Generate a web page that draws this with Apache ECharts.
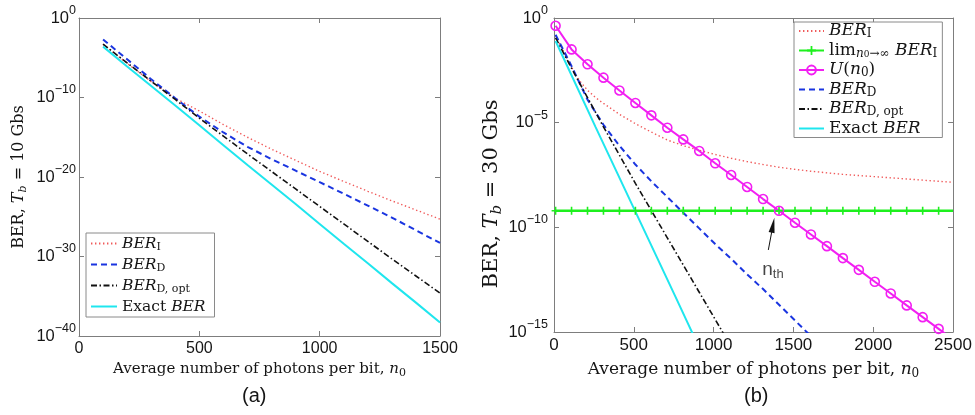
<!DOCTYPE html>
<html>
<head>
<meta charset="utf-8">
<script src="https://cdn.jsdelivr.net/npm/echarts@6/dist/echarts.min.js"></script>
<style>
  html, body { margin: 0; padding: 0; background: #fff; }
  #chart { width: 975px; height: 415px; }
</style>
</head>
<body>
<div id="chart"></div>
<script>
// ---------- Panel (a): T_b = 10 Gbs (values are log10 of the BER) ----------
const nA = [100, 200, 300, 400, 500, 600, 700, 800, 900, 1000, 1100, 1200, 1300, 1400, 1500];
const log10BerI_A     = [-3.3, -5.7, -8.0, -10.1, -11.7, -13.4, -15.0, -16.5, -17.9, -19.3, -20.55, -21.8, -23.0, -24.15, -25.3];
const log10BerD_A     = [-2.7, -5.2, -7.7, -10.1, -12.4, -14.4, -16.2, -17.75, -19.2, -20.65, -22.1, -23.6, -25.1, -26.7, -28.3];
const log10BerDopt_A  = [-3.3, -5.65, -7.95, -10.25, -12.6, -14.85, -17.1, -19.3, -21.5, -23.7, -25.9, -28.1, -30.3, -32.45, -34.6];
const log10BerExact_A = [-3.6, -6.1, -8.55, -11.0, -13.5, -16.0, -18.5, -20.95, -23.4, -25.9, -28.4, -30.85, -33.35, -35.8, -38.3];
const xTicksA = [0, 500, 1000, 1500];
const yExpTicksA = [-40, -30, -20, -10, 0];

// ---------- Panel (b): T_b = 30 Gbs ----------
const nB = [10, 110, 210, 310, 410, 510, 610, 710, 810, 910, 1010, 1110, 1210, 1310, 1410, 1510, 1610, 1710, 1810, 1910, 2010, 2110, 2210, 2310, 2410];
const log10U_B = [-0.37, -1.50, -2.21, -2.85, -3.46, -4.06, -4.65, -5.24, -5.80, -6.35, -6.94, -7.50, -8.07, -8.65, -9.21, -9.78, -10.34, -10.90, -11.47, -12.03, -12.60, -13.16, -13.73, -14.29, -14.85];
const uTailN = 2500;
const uTailLog10 = -15.36;
const log10LimBerI_B = -9.21;
const limEndN = 2500;

const nI_B = [10, 60, 110, 160, 210, 260, 310, 410, 510, 610, 710, 810, 910, 1010, 1110, 1210, 1310, 1410, 1510, 1610, 1810, 2010, 2210, 2410, 2500];
const log10BerI_B = [-0.85, -1.6, -2.35, -3.0, -3.45, -3.8, -4.08, -4.6, -5.05, -5.45, -5.83, -6.1, -6.32, -6.52, -6.70, -6.86, -7.0, -7.13, -7.23, -7.32, -7.47, -7.58, -7.69, -7.80, -7.85];

const nD_B = [10, 110, 210, 310, 410, 510, 610, 710, 810, 910, 1010, 1110, 1210, 1310, 1410, 1510, 1610];
const log10BerD_B = [-0.8, -2.3, -3.9, -5.1, -6.1, -7.0, -7.8, -8.55, -9.3, -10.05, -10.8, -11.5, -12.25, -12.95, -13.7, -14.45, -15.2];

const nDopt_B = [10, 110, 210, 310, 410, 510, 610, 710, 810, 910, 1010, 1110];
const log10BerDopt_B = [-0.95, -2.4, -3.8, -5.2, -6.55, -7.9, -9.2, -10.5, -11.8, -13.1, -14.4, -15.7];

const nExact_B = [10, 260, 510, 760, 910];
const log10BerExact_B = [-1.1, -5.2, -9.25, -13.3, -15.75];

const xTicksB = [0, 500, 1000, 1500, 2000, 2500];
const yExpTicksB = [-15, -10, -5, 0];

// n_th annotation (data space): arrow tail, arrow head, label anchor
const nthArrowTail = [1343, -11.08];
const nthArrowHead = [1372, -9.90];
const nthLabelAt = [1372, -12.05];

// ---------- styling ----------
const SERIF = '"DejaVu Serif", "Liberation Serif", serif';
const SANS = '"Liberation Sans", Arial, sans-serif';
const AXIS_GREY = '#7d7d7d';
const INK = '#151515';
const C_RED = '#f05a5a', C_BLUE = '#1a35e0', C_BLACK = '#111111',
      C_CYAN = '#1fe6ee', C_GREEN = '#1ef01e', C_MAGENTA = '#f21ff2';

const pairs = (xs, ys) => xs.map((x, i) => [x, ys[i]]);

function serifRich(size, lh) {
  return {
    rm:    { fontFamily: SERIF, fontSize: size, lineHeight: lh, color: INK },
    it:    { fontFamily: SERIF, fontSize: size, lineHeight: lh, fontStyle: 'italic', color: INK },
    sub:   { fontFamily: SERIF, fontSize: Math.round(size * 0.7), lineHeight: Math.round(size * 0.62), verticalAlign: 'bottom', color: INK },
    subit: { fontFamily: SERIF, fontSize: Math.round(size * 0.7), lineHeight: Math.round(size * 0.62), verticalAlign: 'bottom', fontStyle: 'italic', color: INK },
    tiny:  { fontFamily: SERIF, fontSize: Math.round(size * 0.52), lineHeight: Math.round(size * 0.45), verticalAlign: 'bottom', color: INK }
  };
}

function powLabelRich(base, sup) {
  return {
    b: { fontFamily: SANS, fontSize: base, lineHeight: 28, color: INK },
    s: { fontFamily: SANS, fontSize: sup, lineHeight: 12, verticalAlign: 'top', color: INK }
  };
}
const powFormatter = v => '{b|10}{s|' + (v === 0 ? '0' : '\u2212' + (-v)) + '}';
const plainFormatter = v => String(v);

function xAxisPair(gridIndex, ticks, labelSize, nameText, nameSize, nameGap) {
  const min = ticks[0], max = ticks[ticks.length - 1], interval = ticks[1] - ticks[0];
  const common = {
    gridIndex, type: 'value', min, max, interval,
    axisLine: { show: true, onZero: false, lineStyle: { color: AXIS_GREY, width: 1 } },
    axisTick: { show: true, inside: true, length: 5, lineStyle: { color: AXIS_GREY } },
    splitLine: { show: false }
  };
  return [
    Object.assign({}, common, {
      position: 'bottom',
      axisLabel: { show: true, margin: 5, fontFamily: SANS, fontSize: labelSize, color: INK, formatter: plainFormatter },
      name: nameText, nameLocation: 'middle', nameGap,
      nameTextStyle: { rich: serifRich(nameSize, nameSize + 4) }
    }),
    Object.assign({}, common, { position: 'top', axisLabel: { show: false } })
  ];
}

function yAxisPair(gridIndex, ticks, baseSize, supSize, margin, nameText, nameSize, nameGap, namePad) {
  const min = ticks[0], max = ticks[ticks.length - 1], interval = ticks[1] - ticks[0];
  const common = {
    gridIndex, type: 'value', min, max, interval,
    axisLine: { show: true, onZero: false, lineStyle: { color: AXIS_GREY, width: 1 } },
    axisTick: { show: true, inside: true, length: 5, lineStyle: { color: AXIS_GREY } },
    splitLine: { show: false }
  };
  return [
    Object.assign({}, common, {
      position: 'left',
      axisLabel: { show: true, margin, formatter: powFormatter, rich: powLabelRich(baseSize, supSize) },
      name: nameText, nameLocation: 'middle', nameGap, nameRotate: 90,
      nameTextStyle: { rich: serifRich(nameSize, nameSize + 4), padding: namePad }
    }),
    Object.assign({}, common, { position: 'right', axisLabel: { show: false } })
  ];
}

function line(name, xi, yi, data, color, width, dash, extra) {
  return Object.assign({
    name, type: 'line', xAxisIndex: xi, yAxisIndex: yi, data,
    symbol: 'none', showSymbol: false, clip: true, smooth: false,
    lineStyle: { color, width, type: dash || 'solid', cap: 'butt' },
    itemStyle: { color },
    emphasis: { disabled: true }, silent: true, animation: false
  }, extra || {});
}

const legendTextA = {
  'a-BERI': '{it|BER}{sub|I}',
  'a-BERD': '{it|BER}{sub|D}',
  'a-BERDopt': '{it|BER}{sub|D, opt}',
  'a-Exact': '{rm|Exact }{it|BER}'
};
const legendTextB = {
  'b-BERI': '{it|BER}{sub|I}',
  'b-Lim': '{rm|lim}{subit|n}{tiny|0}{sub|\u2192\u221e}{rm| }{it|BER}{sub|I}',
  'b-U': '{it|U}{rm|(}{it|n}{sub|0}{rm|)}',
  'b-BERD': '{it|BER}{sub|D}',
  'b-BERDopt': '{it|BER}{sub|D, opt}',
  'b-Exact': '{rm|Exact }{it|BER}'
};

const DOT = [1.4, 2.6];
const DASH = [6, 4];
const DASHDOT = [6, 2.5, 1.5, 2.5];
const PLUS = 'path://M4,0 H6 V4 H10 V6 H6 V10 H4 V6 H0 V4 H4 Z';

const limData = nB.map(n => [n, log10LimBerI_B]);
limData.push({ value: [limEndN, log10LimBerI_B], symbol: 'none' });
const uData = pairs(nB, log10U_B);
uData.push({ value: [uTailN, uTailLog10], symbol: 'none' });

const hideSym = { opacity: 0 };

const option = {
  animation: false,
  backgroundColor: '#ffffff',
  title: [
    { text: '(a)', left: 242, top: 386, padding: 0, textStyle: { fontFamily: SANS, fontSize: 20, fontWeight: 'normal', color: INK } },
    { text: '(b)', left: 744, top: 386, padding: 0, textStyle: { fontFamily: SANS, fontSize: 20, fontWeight: 'normal', color: INK } }
  ],
  grid: [
    { left: 79, top: 18, width: 361, height: 318, containLabel: false, outerBoundsMode: 'none' },
    { left: 554, top: 18, width: 399, height: 314, containLabel: false, outerBoundsMode: 'none' }
  ],
  xAxis: [].concat(
    xAxisPair(0, xTicksA, 16, '{rm|Average number of photons per bit, }{it|n}{sub|0}', 15, 24),
    xAxisPair(1, xTicksB, 17, '{rm|Average number of photons per bit, }{it|n}{sub|0}', 17, 27)
  ),
  yAxis: [].concat(
    yAxisPair(0, yExpTicksA, 16.5, 12.5, 3, '{rm|BER, }{it|T}{subit|b}{rm| = 10 Gbs}', 16, 50, 0),
    yAxisPair(1, yExpTicksB, 16.5, 12.5, 6, '{rm|BER, }{it|T}{subit|b}{rm| = 30 Gbs}', 21, 46, [0, 38, 0, 0])
  ),
  legend: [
    {
      orient: 'vertical', left: 86, top: 233, padding: [1, 9, 1, 4], itemGap: 2,
      itemWidth: 26, itemHeight: 12, selectedMode: false, align: 'left',
      backgroundColor: '#ffffff', borderColor: '#8a8a8a', borderWidth: 1, borderRadius: 0,
      textStyle: { fontFamily: SERIF, fontSize: 15.5, lineHeight: 19, color: INK, rich: serifRich(15.5, 19) },
      formatter: name => legendTextA[name],
      data: [
        { name: 'a-BERI', itemStyle: hideSym },
        { name: 'a-BERD', itemStyle: hideSym },
        { name: 'a-BERDopt', itemStyle: hideSym },
        { name: 'a-Exact', itemStyle: hideSym }
      ]
    },
    {
      orient: 'vertical', left: 794, top: 22, padding: [0, 5, 0, 4], itemGap: 1.5,
      itemWidth: 25, itemHeight: 11, selectedMode: false, align: 'left',
      backgroundColor: '#ffffff', borderColor: '#8a8a8a', borderWidth: 1, borderRadius: 0,
      textStyle: { fontFamily: SERIF, fontSize: 17, lineHeight: 18, color: INK, rich: serifRich(17, 18) },
      formatter: name => legendTextB[name],
      data: [
        { name: 'b-BERI', itemStyle: hideSym },
        { name: 'b-Lim' },
        { name: 'b-U' },
        { name: 'b-BERD', itemStyle: hideSym },
        { name: 'b-BERDopt', itemStyle: hideSym },
        { name: 'b-Exact', itemStyle: hideSym }
      ]
    }
  ],
  series: [
    // panel (a)
    line('a-BERI', 0, 0, pairs(nA, log10BerI_A), C_RED, 1.4, DOT),
    line('a-BERD', 0, 0, pairs(nA, log10BerD_A), C_BLUE, 2, DASH),
    line('a-BERDopt', 0, 0, pairs(nA, log10BerDopt_A), C_BLACK, 1.6, DASHDOT),
    line('a-Exact', 0, 0, pairs(nA, log10BerExact_A), C_CYAN, 2),
    // panel (b)
    line('b-BERI', 2, 2, pairs(nI_B, log10BerI_B), C_RED, 1.4, DOT),
    line('b-Lim', 2, 2, limData, C_GREEN, 2.4, 'solid', {
      symbol: PLUS, showSymbol: true, symbolSize: 8, itemStyle: { color: C_GREEN }
    }),
    line('b-U', 2, 2, uData, C_MAGENTA, 2, 'solid', {
      symbol: 'circle', showSymbol: true, symbolSize: 9,
      itemStyle: { color: 'rgba(0,0,0,0)', borderColor: C_MAGENTA, borderWidth: 1.6 },
      markLine: {
        silent: true, animation: false,
        symbol: ['none', 'triangle'], symbolSize: [6, 15],
        lineStyle: { color: C_BLACK, width: 1, type: 'solid' },
        itemStyle: { color: C_BLACK },
        label: { show: false },
        emphasis: { disabled: true },
        data: [[{ coord: nthArrowTail }, { coord: nthArrowHead }]]
      }
    }),
    line('b-BERD', 2, 2, pairs(nD_B, log10BerD_B), C_BLUE, 2, DASH),
    line('b-BERDopt', 2, 2, pairs(nDopt_B, log10BerDopt_B), C_BLACK, 1.6, DASHDOT),
    line('b-Exact', 2, 2, pairs(nExact_B, log10BerExact_B), C_CYAN, 2),
    {
      name: 'nth', type: 'scatter', xAxisIndex: 2, yAxisIndex: 2, silent: true,
      data: [nthLabelAt], symbolSize: 2, itemStyle: { color: 'rgba(0,0,0,0)' },
      label: {
        show: true, position: 'inside', formatter: '{n|n}{t|th}',
        rich: {
          n: { fontFamily: SANS, fontSize: 19, lineHeight: 22, color: INK },
          t: { fontFamily: SANS, fontSize: 13, lineHeight: 9, verticalAlign: 'bottom', color: INK }
        }
      }
    }
  ]
};

const chart = echarts.init(document.getElementById('chart'), null, { renderer: 'canvas' });
chart.setOption(option);
</script>
</body>
</html>
